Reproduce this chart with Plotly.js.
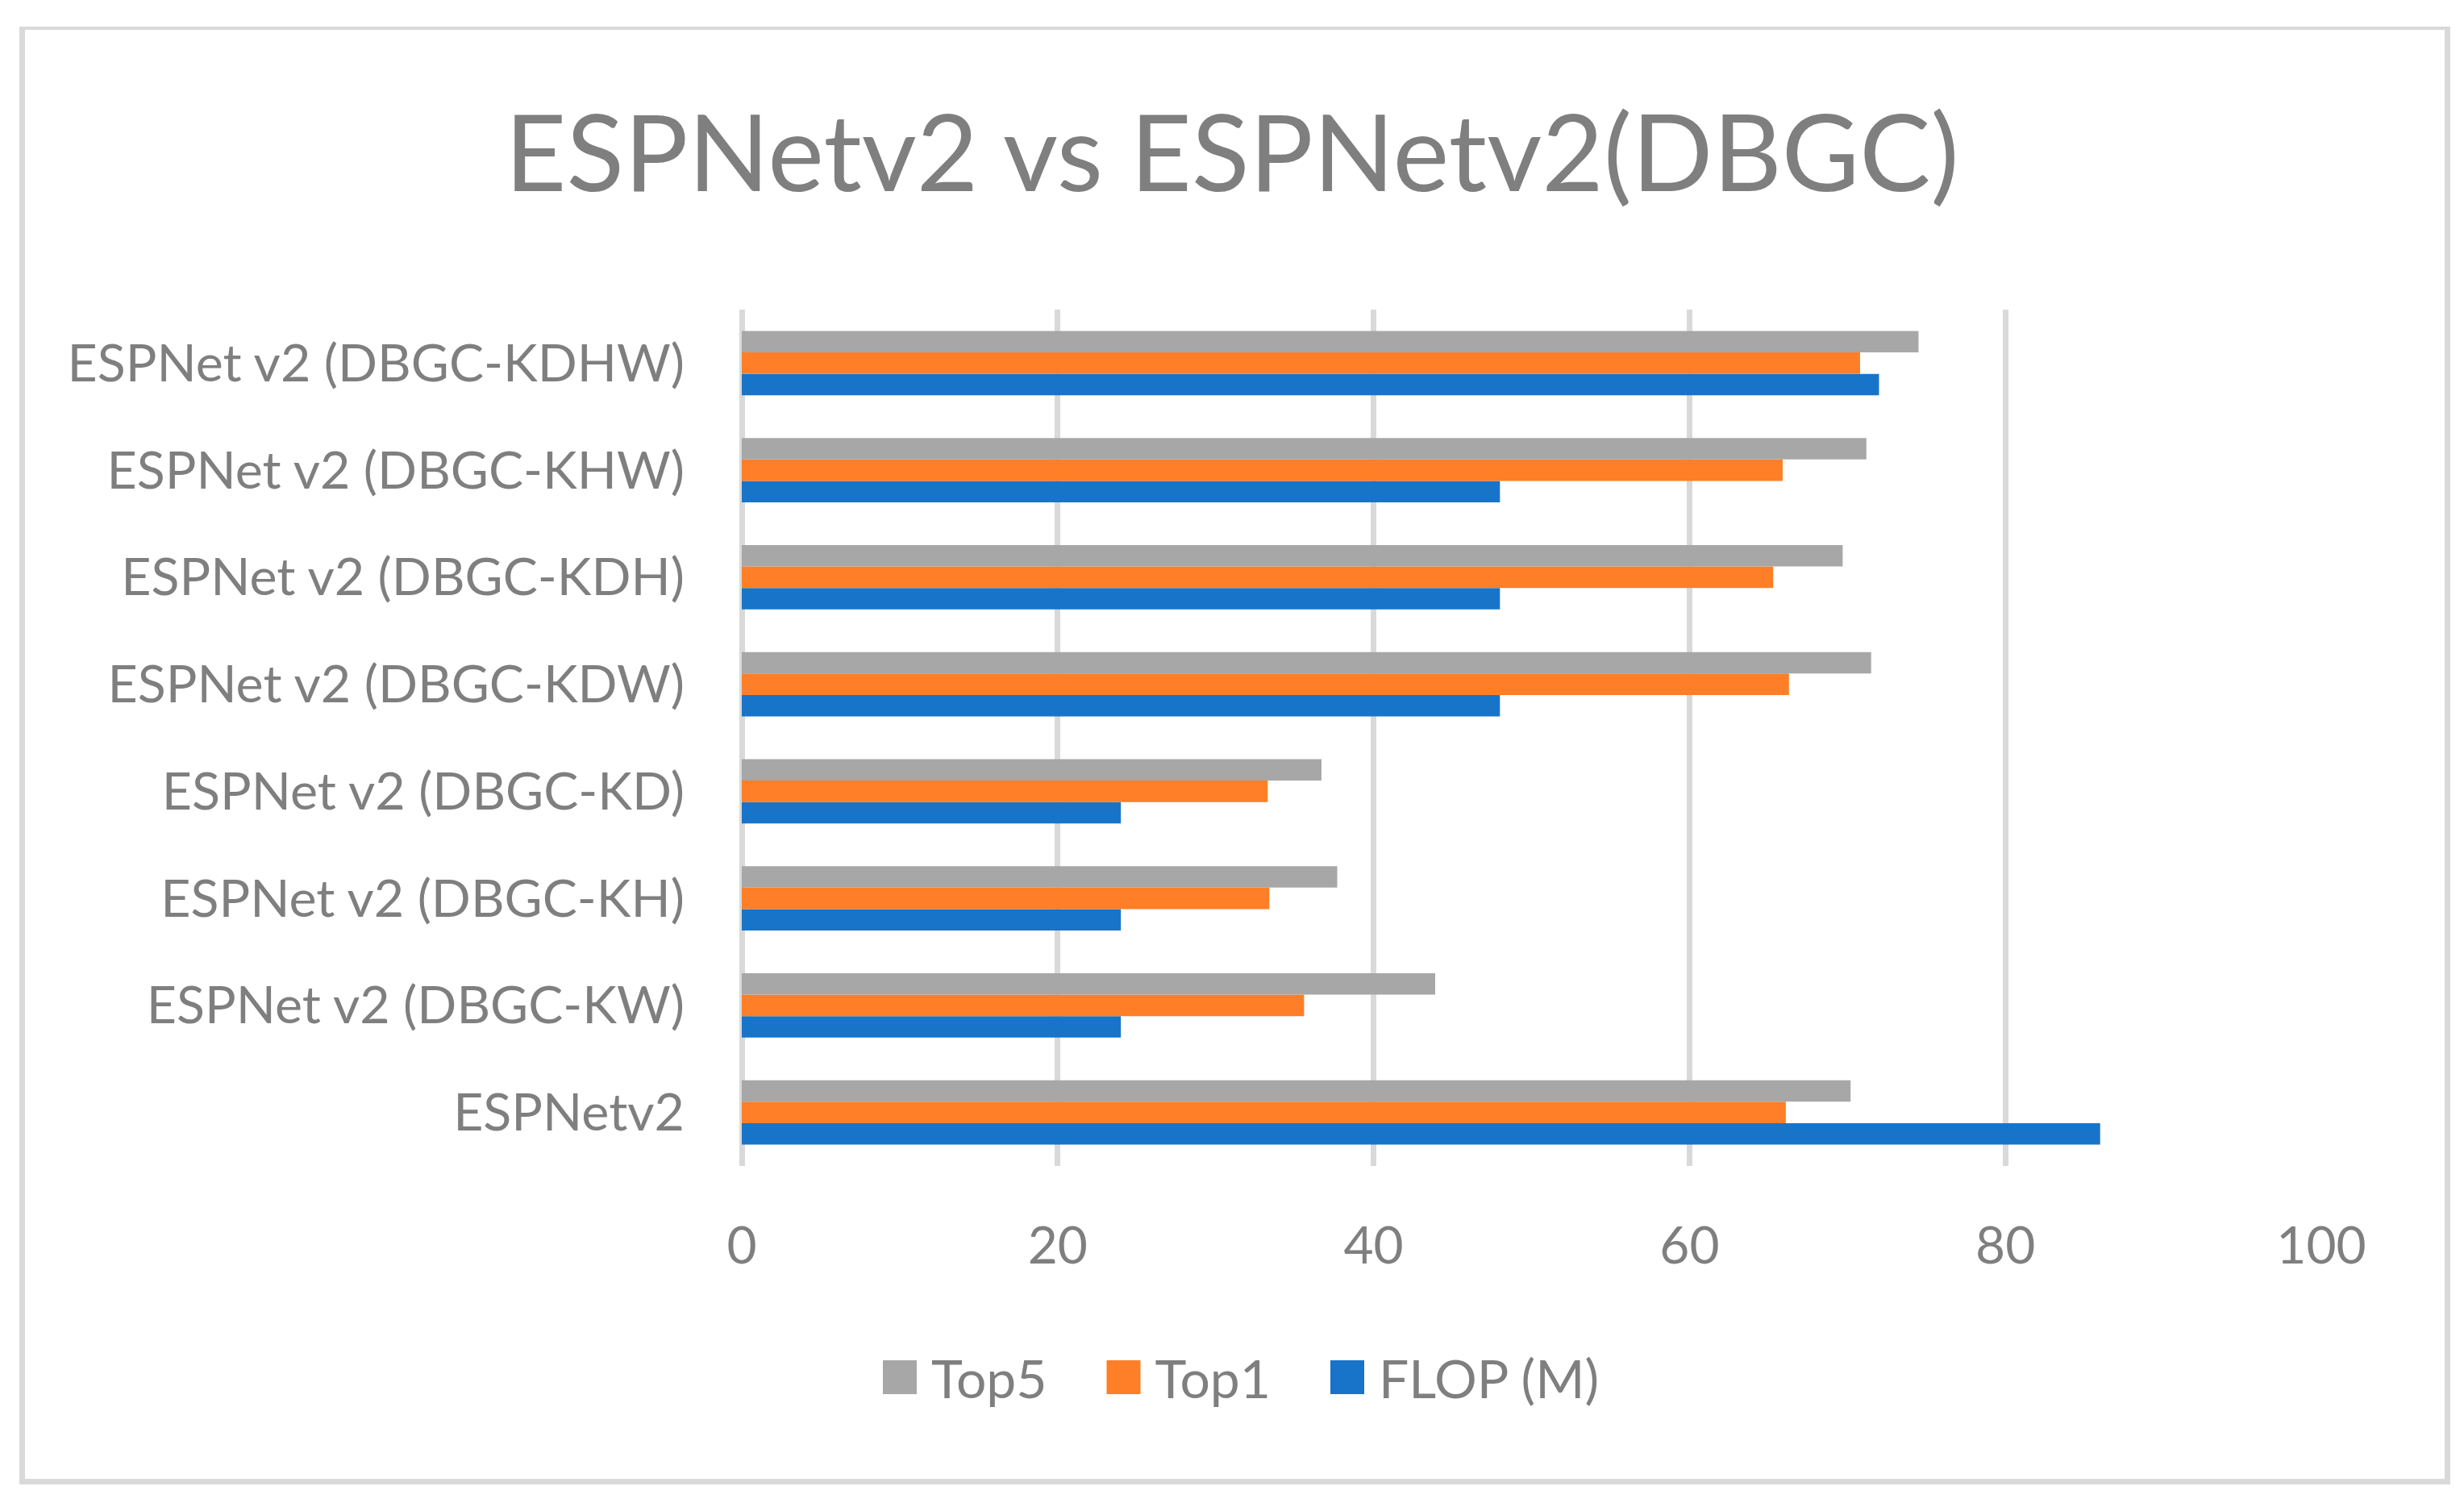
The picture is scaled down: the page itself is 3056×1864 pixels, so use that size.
<!DOCTYPE html>
<html>
<head>
<meta charset="utf-8">
<script src="https://cdn.plot.ly/plotly-3.0.1.min.js"></script>
<style>
  html, body { margin: 0; padding: 0; background: #ffffff; }
  #wrap { position: relative; width: 3056px; height: 1864px; overflow: hidden; }
  #chart { position: absolute; left: 0; top: 0; width: 3056px; height: 1864px; }
  #frame { position: absolute; left: 24px; top: 33px; width: 3001px; height: 1797px;
           border: 7px solid #d9d9d9; border-top-width: 4px; pointer-events: none; }
</style>
</head>
<body>
<div id="wrap">
  <div id="chart"></div>
  <div id="frame"></div>
</div>
<script>
const categories = [
  'ESPNetv2',
  'ESPNet v2 (DBGC-KW)',
  'ESPNet v2 (DBGC-KH)',
  'ESPNet v2 (DBGC-KD)',
  'ESPNet v2 (DBGC-KDW)',
  'ESPNet v2 (DBGC-KDH)',
  'ESPNet v2 (DBGC-KHW)',
  'ESPNet v2 (DBGC-KDHW)'
];
const flop = [86.0, 24.0, 24.0, 24.0, 48.0, 48.0, 48.0, 72.0];
const top1 = [66.1, 35.6, 33.4, 33.3, 66.3, 65.3, 65.9, 70.8];
const top5 = [70.2, 43.9, 37.7, 36.7, 71.5, 69.7, 71.2, 74.5];
const xTicks = [0, 20, 40, 60, 80, 100];
const seriesNames = ['FLOP (M)', 'Top1', 'Top5'];

const FONT = 'Lato, "Open Sans", sans-serif';
const TEXT = '#7f7f7f';

const traces = [
  { type: 'bar', orientation: 'h', name: seriesNames[0], y: categories, x: flop,
    marker: { color: '#1874c9' } },
  { type: 'bar', orientation: 'h', name: seriesNames[1], y: categories, x: top1,
    marker: { color: '#fe7f27' } },
  { type: 'bar', orientation: 'h', name: seriesNames[2], y: categories, x: top5,
    marker: { color: '#a7a7a7' } }
];

const layout = {
  width: 3056, height: 1864,
  paper_bgcolor: '#ffffff', plot_bgcolor: '#ffffff',
  font: { family: FONT, color: TEXT, size: 66 },
  margin: { l: 920, r: 177, t: 384, b: 418, pad: 0 },
  title: { text: 'ESPNetv2 vs ESPNetv2(DBGC)', font: { family: FONT, size: 132, color: TEXT },
           x: 0.5, xref: 'container', xanchor: 'center', y: 1 - 191 / 1864, yref: 'container', yanchor: 'middle' },
  barmode: 'group', bargap: 0.4, bargroupgap: 0,
  xaxis: {
    range: [0, 100], tickvals: xTicks, ticktext: xTicks.map(String),
    showgrid: true, gridcolor: '#d9d9d9', gridwidth: 7,
    zeroline: true, zerolinecolor: '#d9d9d9', zerolinewidth: 7,
    showline: false, ticks: '', ticklabelstandoff: 56,
    tickfont: { family: FONT, size: 64, color: TEXT }, fixedrange: true
  },
  yaxis: {
    type: 'category', categoryorder: 'array', categoryarray: categories,
    showgrid: false, zeroline: false, showline: false, ticks: '',
    ticklabelstandoff: 70, tickfont: { family: FONT, size: 64.5, color: TEXT }, fixedrange: true
  },
  showlegend: true,
  legend: {
    orientation: 'h', traceorder: 'reversed',
    x: 1105 / 3056, xref: 'container', xanchor: 'left',
    y: 1 - 1708 / 1864, yref: 'container', yanchor: 'middle',
    font: { family: FONT, size: 66, color: TEXT },
    itemwidth: 40, entrywidth: 222.5, entrywidthmode: 'pixels',
    bgcolor: 'rgba(0,0,0,0)'
  }
};

Plotly.newPlot('chart', traces, layout, { staticPlot: true, displayModeBar: false }).then(function (gd) {
  // Excel-style larger legend keys placed just left of their labels
  document.querySelectorAll('#chart g.legend [clip-path]').forEach(function (el) {
    el.removeAttribute('clip-path');
  });
  document.querySelectorAll('#chart g.legend g.traces').forEach(function (item) {
    const txt = item.querySelector('text.legendtext');
    const tx = txt ? parseFloat(txt.getAttribute('x')) || 50 : 50;
    item.querySelectorAll('g.legendpoints path').forEach(function (p) {
      p.setAttribute('d', 'M21,21H-21V-21H21Z');
      p.setAttribute('transform', 'translate(' + (tx - 39) + ',0)');
    });
  });
});
</script>
</body>
</html>
